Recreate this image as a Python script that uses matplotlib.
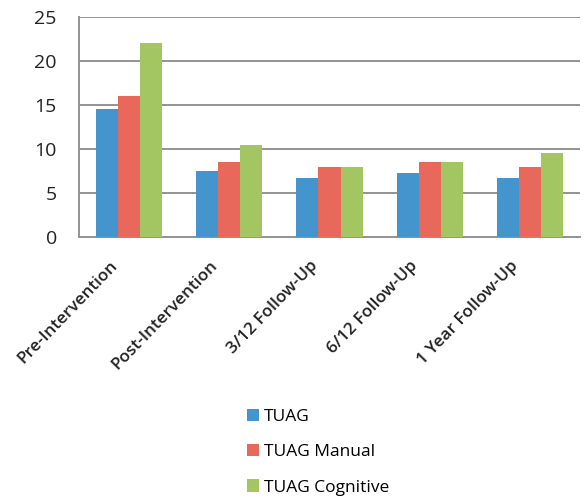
import matplotlib
matplotlib.use("Agg")
import matplotlib.pyplot as plt
import numpy as np

categories = ["Pre-Intervention", "Post-Intervention", "3/12 Follow-Up",
              "6/12 Follow-Up", "1 Year Follow-Up"]
tuag = [14.5, 7.5, 6.7, 7.25, 6.7]
tuag_manual = [16, 8.5, 8, 8.5, 8]
tuag_cognitive = [22, 10.5, 8, 8.5, 9.5]
series_names = ["TUAG", "TUAG Manual", "TUAG Cognitive"]
colors = ["#4495ce", "#e8685b", "#a3c663"]
yticks = [0, 5, 10, 15, 20, 25]

plt.rcParams["font.family"] = ["Open Sans", "DejaVu Sans"]

fig = plt.figure(figsize=(5.87, 4.97), dpi=100)
ax = fig.add_axes([79 / 587, 1 - 237 / 497, 501 / 587, 220 / 497])

x = np.arange(len(categories))
w = 0.22
for i, (vals, name, c) in enumerate(zip([tuag, tuag_manual, tuag_cognitive],
                                        series_names, colors)):
    ax.bar(x + (i - 1) * w, vals, width=w, color=c, label=name, zorder=3)

ax.set_xlim(-0.5, len(categories) - 0.5)
ax.set_ylim(0, 25)
ax.set_yticks(yticks)
ax.yaxis.grid(True, color="#939393", linewidth=1.4, zorder=0)
ax.set_axisbelow(True)
for s in ["top", "right"]:
    ax.spines[s].set_visible(False)
for s in ["left", "bottom"]:
    ax.spines[s].set_color("#939393")
    ax.spines[s].set_linewidth(1.4)
ax.tick_params(axis="both", length=0)
ax.tick_params(axis="y", labelsize=14, pad=16, colors="#222222")
ax.set_xticks(x - 0.2)
ax.set_xticklabels(categories, rotation=46, ha="right", rotation_mode="anchor",
                   fontsize=12.3, fontweight="semibold", color="#222222")
ax.tick_params(axis="x", pad=15)

fig.legend(loc="upper left", bbox_to_anchor=(240 / 587, 1 - 402 / 497),
           frameon=False, fontsize=12.5, handlelength=0.7, handleheight=0.7,
           handletextpad=0.3, labelspacing=1.1, borderaxespad=0)

fig.savefig("out.png", dpi=100)
